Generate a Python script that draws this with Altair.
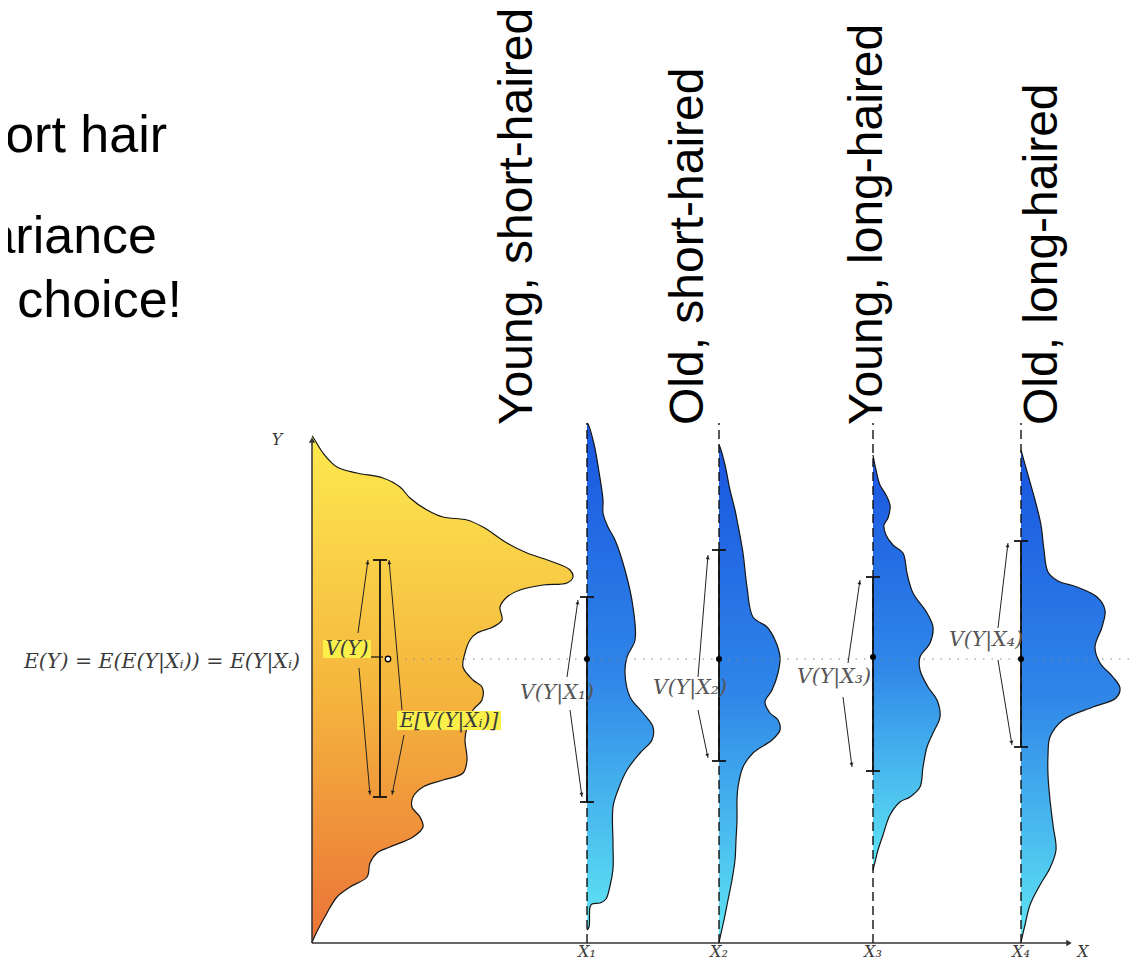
import math
import altair as alt
import pandas as pd

# ---------------- frame: diagram units (origin = corner of the two axes) ----------------
X_DOMAIN = [-304, 820]
Y_DOMAIN = [-18, 935]
W, H = 1124, 953

# ---------------- slide text (cut at the left edge) ----------------
slide_lines = ["ort hair", "ariance", "choice!"]
slide_x = [-145, -155, -130]
slide_y = [791, 690, 626]

# ---------------- group labels ----------------
categories = ["Young, short-haired", "Old, short-haired", "Young, long-haired", "Old, long-haired"]
cat_x = [220, 391, 570, 745]
cat_y = [518, 518, 518, 518]

group_pos = [275, 407, 561, 709]          # X1..X4 on the X axis
group_labels = ["X₁", "X₂", "X₃", "X₄"]
cond_labels = ["V(Y|X₁)", "V(Y|X₂)", "V(Y|X₃)", "V(Y|X₄)"]
cond_label_x = [245, 378, 522, 674]
cond_label_y = [250, 255, 266, 303]

# ---------------- marginal density of Y (yellow) ----------------
marg_level = [507, 506, 490, 476, 470, 465, 456, 445, 433, 426, 423, 416, 400, 390, 381, 373, 366, 360,
              358, 353, 346, 336, 323, 316, 310, 303, 290, 276, 263, 256, 243, 233, 216, 203, 183, 170,
              163, 156, 146, 136, 126, 116, 106, 96, 90, 80, 66, 56, 46, 30, 3, 0]
marg_width = [0, 1, 11, 25, 45, 71, 88, 98, 115, 131, 155, 171, 195, 215, 241, 258, 261, 255,
              231, 208, 195, 188, 190, 181, 165, 158, 153, 151, 161, 170, 170, 161, 155, 153, 155, 151,
              131, 111, 101, 100, 108, 111, 101, 78, 65, 58, 55, 38, 25, 15, 1, 0]

# ---------------- conditional densities (blue) ----------------
s1_level = [520, 519, 499, 471, 443, 430, 416, 403, 373, 336, 303, 286, 270, 246, 230, 216, 203, 190,
            173, 153, 136, 99, 74, 57, 44, 40, 39, 36, 16, 13]
s1_width = [0, 1, 7, 12, 16, 16, 21, 28, 38, 46, 48, 40, 38, 43, 56, 66, 65, 53,
            40, 31, 26, 26, 26, 23, 19, 13, 5, 3, 2, 0]
s2_level = [498, 496, 478, 453, 433, 423, 390, 356, 326, 316, 303, 286, 270, 253, 241, 230, 223, 213,
            203, 190, 176, 156, 143, 123, 103, 83, 63, 43, 23, 5, 0]
s2_width = [0, 1, 6, 11, 16, 18, 24, 28, 34, 48, 56, 61, 59, 53, 46, 51, 59, 61,
            53, 34, 24, 19, 18, 18, 17, 16, 13, 9, 5, 1, 0]
s3_level = [488, 473, 458, 448, 438, 425, 418, 408, 398, 390, 370, 350, 330, 316, 300, 286, 273, 256,
            243, 226, 210, 196, 176, 156, 146, 141, 128, 108, 93, 81, 73]
s3_width = [0, 3, 7, 13, 17, 15, 11, 13, 20, 30, 34, 40, 54, 60, 57, 47, 47, 55,
            64, 67, 60, 54, 50, 47, 37, 27, 17, 10, 5, 2, 0]
s4_level = [493, 468, 443, 418, 393, 371, 362, 356, 346, 333, 316, 296, 280, 266, 255, 245, 236, 223,
            206, 188, 168, 143, 118, 93, 75, 58, 38, 18, 1]
s4_width = [0, 7, 14, 20, 23, 27, 37, 56, 76, 84, 81, 74, 79, 92, 99, 95, 72, 42,
            29, 27, 27, 29, 32, 35, 29, 19, 9, 4, 0]
cond_levels = [s1_level, s2_level, s3_level, s4_level]
cond_widths = [s1_width, s2_width, s3_width, s4_width]

# ---------------- variance bars and means ----------------
marg_bar_x = 68
marg_bar_top, marg_bar_bottom = 383, 146
marg_mean_x, marg_mean_y = 76, 284
cond_bar_top = [346, 393, 366, 402]
cond_bar_bottom = [141, 182, 172, 196]
cond_mean = [284, 284, 286, 284]
mean_line_y = 284

# arrows: tail -> tip
arrow_tail_x = [46, 47, 90, 92, 255, 258, 386, 386, 536, 531, 686, 686]
arrow_tail_y = [310, 275, 233, 208, 266, 233, 266, 233, 280, 246, 315, 283]
arrow_tip_x = [56, 58, 77, 80, 266, 270, 396, 396, 548, 540, 696, 700]
arrow_tip_y = [383, 148, 383, 148, 343, 146, 388, 185, 363, 176, 400, 198]

# ---------------- helpers ----------------
def X(f):
    return alt.X(f, type="quantitative", scale=alt.Scale(domain=X_DOMAIN, nice=False, zero=False), axis=None)

def Y(f):
    return alt.Y(f, type="quantitative", scale=alt.Scale(domain=Y_DOMAIN, nice=False, zero=False), axis=None)

yellow_grad = alt.Gradient(gradient="linear", x1=0, x2=0, y1=0, y2=1,
                           stops=[alt.GradientStop(color="#fde94f", offset=0),
                                  alt.GradientStop(color="#f5b63e", offset=0.5),
                                  alt.GradientStop(color="#ea7338", offset=1)])
blue_grad = alt.Gradient(gradient="linear", x1=0, x2=0, y1=0, y2=1,
                         stops=[alt.GradientStop(color="#1a55e0", offset=0),
                                alt.GradientStop(color="#2f86e8", offset=0.5),
                                alt.GradientStop(color="#5fe6f3", offset=1)])

layers = []

# densities
df_m = pd.DataFrame({"level": marg_level, "base": 0, "edge": marg_width}).sort_values("level")
layers.append(alt.Chart(df_m).mark_area(orient="horizontal", interpolate="catmull-rom", color=yellow_grad)
              .encode(y=Y("level"), x=X("base"), x2=alt.X2("edge")))
layers.append(alt.Chart(df_m).mark_line(interpolate="catmull-rom", color="#151515", strokeWidth=1.2)
              .encode(x=X("edge"), y=Y("level"), order=alt.Order("level:Q")))
for pos, lv, wd in zip(group_pos, cond_levels, cond_widths):
    df = pd.DataFrame({"level": lv, "base": pos, "edge": [pos + w for w in wd]}).sort_values("level")
    layers.append(alt.Chart(df).mark_area(orient="horizontal", interpolate="catmull-rom", color=blue_grad)
                  .encode(y=Y("level"), x=X("base"), x2=alt.X2("edge")))
    layers.append(alt.Chart(df).mark_line(interpolate="catmull-rom", color="#151515", strokeWidth=1.2)
                  .encode(x=X("edge"), y=Y("level"), order=alt.Order("level:Q")))

# dashed verticals
df_dash = pd.DataFrame({"x": group_pos, "y0": 0, "y1": 520})
layers.append(alt.Chart(df_dash).mark_rule(color="#111", strokeWidth=1.4, strokeDash=[9, 5])
              .encode(x=X("x"), y=Y("y0"), y2=alt.Y2("y1")))

# dotted mean line
df_dot = pd.DataFrame({"x0": [marg_mean_x], "x1": [828], "y": [mean_line_y]})
layers.append(alt.Chart(df_dot).mark_rule(color="#8a8a8a", strokeWidth=1.2, strokeDash=[1.5, 7])
              .encode(x=X("x0"), x2=alt.X2("x1"), y=Y("y")))

# axes
df_axes = pd.DataFrame({"x0": [0, 0], "x1": [0, 758], "y0": [0, 0], "y1": [504, 0]})
layers.append(alt.Chart(df_axes).mark_rule(color="#333", strokeWidth=1.5)
              .encode(x=X("x0"), x2=alt.X2("x1"), y=Y("y0"), y2=alt.Y2("y1")))
df_axhead = pd.DataFrame({"x": [0, 757], "y": [503, 0], "ang": [0, 90]})
layers.append(alt.Chart(df_axhead).mark_point(shape="triangle-up", filled=True, color="#333", size=40, opacity=1)
              .encode(x=X("x"), y=Y("y"), angle=alt.Angle("ang:Q", scale=None)))

# variance bars
bar_x = [marg_bar_x] + group_pos
bar_top = [marg_bar_top] + cond_bar_top
bar_bot = [marg_bar_bottom] + cond_bar_bottom
df_bar = pd.DataFrame({"x": bar_x, "y0": bar_bot, "y1": bar_top})
layers.append(alt.Chart(df_bar).mark_rule(color="#111", strokeWidth=1.8)
              .encode(x=X("x"), y=Y("y0"), y2=alt.Y2("y1")))
caps = pd.DataFrame({"x0": [x - 7 for x in bar_x] * 2, "x1": [x + 7 for x in bar_x] * 2,
                     "y": bar_top + bar_bot})
layers.append(alt.Chart(caps).mark_rule(color="#111", strokeWidth=1.8)
              .encode(x=X("x0"), x2=alt.X2("x1"), y=Y("y")))
# V(Y) connector
df_conn = pd.DataFrame({"x0": [58], "x1": [71], "y": [286]})
layers.append(alt.Chart(df_conn).mark_rule(color="#111", strokeWidth=1.2)
              .encode(x=X("x0"), x2=alt.X2("x1"), y=Y("y")))

# means
df_means = pd.DataFrame({"x": group_pos, "y": cond_mean})
layers.append(alt.Chart(df_means).mark_point(filled=True, color="black", size=36, opacity=1)
              .encode(x=X("x"), y=Y("y")))
df_mm = pd.DataFrame({"x": [marg_mean_x], "y": [marg_mean_y]})
layers.append(alt.Chart(df_mm).mark_point(filled=True, fill="white", stroke="black", strokeWidth=1.3,
                                          size=30, opacity=1)
              .encode(x=X("x"), y=Y("y")))

# arrows
df_arr = pd.DataFrame({"tx": arrow_tail_x, "ty": arrow_tail_y, "hx": arrow_tip_x, "hy": arrow_tip_y})
layers.append(alt.Chart(df_arr).mark_rule(color="#222", strokeWidth=1.0)
              .encode(x=X("tx"), y=Y("ty"), x2=alt.X2("hx"), y2=alt.Y2("hy")))
heads = []
for tx, ty, hx, hy in zip(arrow_tail_x, arrow_tail_y, arrow_tip_x, arrow_tip_y):
    dx, dy = hx - tx, hy - ty
    L = math.hypot(dx, dy)
    ang = math.degrees(math.atan2(dx, dy)) % 360
    heads.append({"x": hx - 2.5 * dx / L, "y": hy - 2.5 * dy / L, "ang": ang})
layers.append(alt.Chart(pd.DataFrame(heads)).mark_point(shape="triangle-up", filled=True, color="#222",
                                                       size=16, opacity=1)
              .encode(x=X("x"), y=Y("y"), angle=alt.Angle("ang:Q", scale=None)))

# highlights
df_hl = pd.DataFrame({"x0": [11, 85], "x1": [59, 189], "y0": [285, 213], "y1": [303, 232]})
layers.append(alt.Chart(df_hl).mark_rect(color="#fbf04a", opacity=1)
              .encode(x=X("x0"), x2=alt.X2("x1"), y=Y("y0"), y2=alt.Y2("y1")))

serif = "DejaVu Serif, serif"
math_color = "#3a3a3a"

def texts(xs, ys, labels, **kw):
    df = pd.DataFrame({"x": xs, "y": ys, "t": labels})
    return alt.Chart(df).mark_text(**kw).encode(x=X("x"), y=Y("y"), text="t:N")

layers.append(texts([35, 137], [294, 222], ["V(Y)", "E[V(Y|Xᵢ)]"], font=serif, fontStyle="italic",
                    fontSize=20, color=math_color, align="center", baseline="middle"))
layers.append(texts(cond_label_x, cond_label_y, cond_labels, font=serif, fontStyle="italic",
                    fontSize=20.5, color="#555", align="center", baseline="middle"))
layers.append(texts([-12], [281], ["E(Y)   =   E(E(Y|Xᵢ))   =   E(Y|Xᵢ)"], font=serif, fontStyle="italic",
                    fontSize=20.5, color=math_color, align="right", baseline="middle"))
layers.append(texts([-35, 771], [503, -9], ["Y", "X"], font=serif, fontStyle="italic",
                    fontSize=16, color=math_color, align="center", baseline="middle"))
layers.append(texts(group_pos, [-9] * 4, group_labels, font=serif, fontStyle="italic",
                    fontSize=16, color=math_color, align="center", baseline="middle"))
layers.append(texts(cat_x, cat_y, categories, font="Liberation Sans", fontSize=48, color="black",
                    align="left", baseline="alphabetic", angle=270))
layers.append(texts(slide_x, slide_y, slide_lines, font="Liberation Sans", fontSize=52, color="black",
                    align="right", baseline="alphabetic"))

chart = (alt.layer(*layers)
         .properties(width=W, height=H, padding=0, autosize=alt.AutoSizeParams(type="none"),
                     background="white")
         .configure_view(stroke=None))

chart.save("out.html", embed_options={"renderer": "svg", "actions": False})
